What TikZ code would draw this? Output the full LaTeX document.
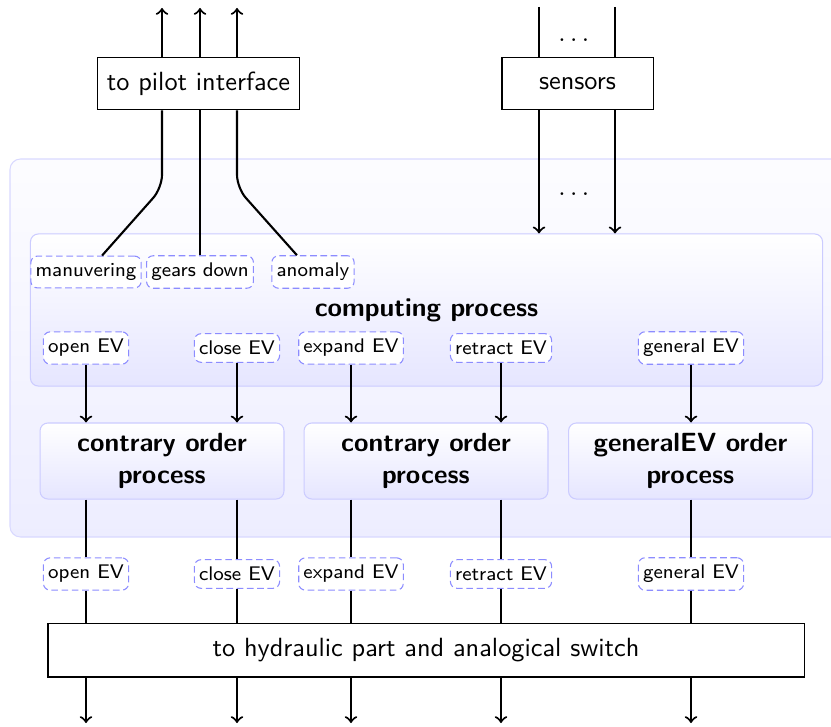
\documentclass[tikz,border=0pt]{standalone}
\usepackage{amsmath}
\usepackage{tikz}
\renewcommand{\familydefault}{\sfdefault}

\begin{document}
\begin{tikzpicture}[x=0.38pt, y=-0.38pt]
                \tikzstyle{plain}=[draw=black, fill=white, thin, inner sep=0pt]
                \tikzstyle{signal}=[draw=blue!45, dash pattern=on 2.5pt off 1.4pt, fill=white, rounded corners=2.5pt, inner xsep=1.8pt, inner ysep=2.8pt, font=\fontsize{7.5}{9}\selectfont]
                \tikzstyle{process}=[draw=blue!20, rounded corners=3pt, top color=white, bottom color=blue!10, align=center, font=\bfseries]
                \tikzstyle{edge} = [draw, thick, -]
                \tikzstyle{flow} = [draw, thick, ->]

                \clip (0,0) rectangle (831,726);

                % outer zone, cut at the right border
                \draw[draw=blue!15, rounded corners=4pt, top color=blue!1, bottom color=blue!7] (10,159) rectangle (880,537);

                \node[plain, minimum width=77pt, minimum height=20.1pt] (pilot) at (198.5,83.5) {to pilot interface};
                \node[plain, minimum width=57.4pt, minimum height=20.1pt] (sensors) at (577.5,83.5) {sensors};
                \node[plain, minimum width=287.3pt, minimum height=20.5pt] (hyd) at (426,650) {to hydraulic part and analogical switch};

                \node[process, minimum width=301pt, minimum height=57.8pt] (comp) at (426.5,310) {computing process};
                \node[process, minimum width=92.7pt, minimum height=28.9pt] (procA) at (162,461) {contrary order\\process};
                \node[process, minimum width=92.7pt, minimum height=28.9pt] (procB) at (426,461) {contrary order\\process};
                \node[process, minimum width=92.7pt, minimum height=28.9pt] (procC) at (690.5,461) {generalEV order\\process};

                \node[signal] (man) at (86,272) {manuvering};
                \node[signal] (gears) at (200,272) {gears down};
                \node[signal] (anom) at (313,272) {anomaly};

                \node (dotsA) at (576,40) {$\dots$};
                \node (dotsB) at (576,194) {$\dots$};

                % pilot outputs
                \coordinate (pout1) at (162,8);
                \coordinate (pout2) at (200,8);
                \coordinate (pout3) at (237,8);
                \foreach \dest in {pout1, pout2, pout3}
                \path[flow] (pilot.north -| \dest) -- (\dest);

                \path[edge, rounded corners=5pt] ([xshift=6.1pt]man.north) -- (pout1 |- 0,188) -- (pilot.south -| pout1);
                \path[edge] (gears.north) -- (pilot.south -| pout2);
                \path[edge, rounded corners=5pt] ([xshift=-6.1pt]anom.north) -- (pout3 |- 0,188) -- (pilot.south -| pout3);

                % sensor inputs
                \coordinate (sin1) at (539,7);
                \coordinate (sin2) at (615,7);
                \foreach \source in {sin1, sin2} {
                \path[edge] (\source) -- (\source |- sensors.north);
                \path[flow] (sensors.south -| \source) -- (\source |- comp.north);
                }

                % electro-valve orders
                \foreach \name/\xpos/\txt in {o/86/open EV, c/237/close EV, e/351/expand EV, r/501/retract EV, g/691/general EV} {
                \node[signal] (up\name) at (\xpos,348) {\txt};
                \node[signal] (dn\name) at (\xpos,574) {\txt};
                \coordinate (out\name) at (\xpos,723);
                }

                \foreach \name/\proc in {o/procA, c/procA, e/procB, r/procB, g/procC} {
                \path[flow] (up\name.south) -- (up\name.south |- \proc.north);
                \path[edge] (\proc.south -| dn\name) -- (dn\name.north);
                \path[edge] (dn\name.south) -- (dn\name.south |- hyd.north);
                \path[flow] (hyd.south -| out\name) -- (out\name);
                }
            \end{tikzpicture}
\end{document}
